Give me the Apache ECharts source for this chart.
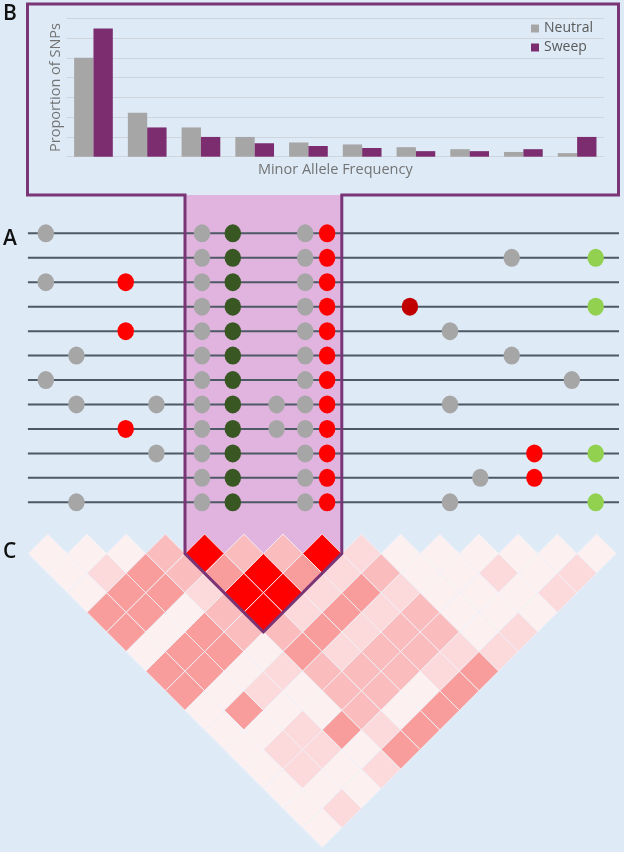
<!DOCTYPE html>
<html>
<head>
<meta charset="utf-8">
<script src="https://cdn.jsdelivr.net/npm/echarts@6/dist/echarts.min.js"></script>
<style>
html,body{margin:0;padding:0;background:#deebf7;}
#chart{width:624px;height:852px;}
</style>
</head>
<body>
<div id="chart"></div>
<script>
// ---------- Panel B: site frequency spectrum ----------
const mafBins = ['0-0.05','0.05-0.10','0.10-0.15','0.15-0.20','0.20-0.25','0.25-0.30','0.30-0.35','0.35-0.40','0.40-0.45','0.45-0.50'];
const neutralProp = [0.250, 0.111, 0.074, 0.050, 0.036, 0.031, 0.024, 0.019, 0.012, 0.009];
const sweepProp   = [0.324, 0.074, 0.050, 0.034, 0.027, 0.022, 0.014, 0.014, 0.019, 0.050];
const seriesNames = ['Neutral', 'Sweep'];

// ---------- Panel A: haplotypes ----------
// SNP positions along the region (kb)
const snpPos = [17.9, 48.5, 97.8, 128.5, 174.1, 204.9, 248.7, 277.3, 299.2, 382.0, 422.1, 452.4, 483.8, 506.5, 543.9, 567.8];
const snpKind = ['neutral','neutral','derived','neutral','neutral','core','neutral','neutral','target','deleterious','neutral','neutral','neutral','derived','neutral','marker'];
const regionStart = 0, regionEnd = 591.1;
// SNP indices carried by each of the 12 haplotypes
const haplotypes = [
  [0,4,5,7,8],
  [4,5,7,8,12,15],
  [0,2,4,5,7,8],
  [4,5,7,8,9,15],
  [2,4,5,7,8,10],
  [1,4,5,7,8,12],
  [0,4,5,7,8,14],
  [1,3,4,5,6,7,8,10],
  [2,4,5,6,7,8],
  [3,4,5,7,8,13,15],
  [4,5,7,8,11,13],
  [1,4,5,7,8,10,15]
];

// ---------- Panel C: pairwise LD (r^2), listed by SNP distance d = j - i ----------
const ldByDistance = [
  [0.02,0.02,0.02,0.30,1.00,0.30,0.30,1.00,0.15,0.02,0.02,0.02,0.02,0.02,0.02],
  [0.02,0.15,0.50,0.30,0.50,1.00,0.50,0.15,0.30,0.02,0.02,0.15,0.02,0.15],
  [0.02,0.50,0.50,0.15,1.00,1.00,0.15,0.50,0.15,0.02,0.02,0.02,0.15],
  [0.50,0.50,0.02,0.30,1.00,0.15,0.50,0.15,0.30,0.02,0.02,0.02],
  [0.50,0.02,0.50,0.30,0.30,0.50,0.15,0.30,0.30,0.02,0.15],
  [0.02,0.50,0.50,0.02,0.50,0.15,0.30,0.30,0.15,0.15],
  [0.50,0.50,0.02,0.15,0.30,0.30,0.30,0.15,0.50],
  [0.50,0.02,0.15,0.02,0.30,0.30,0.02,0.50],
  [0.02,0.50,0.02,0.02,0.30,0.02,0.50],
  [0.02,0.02,0.15,0.50,0.15,0.50],
  [0.02,0.15,0.15,0.02,0.50],
  [0.02,0.15,0.02,0.15],
  [0.02,0.02,0.02],
  [0.02,0.15],
  [0.02]
];

// ---------- styles ----------
const kindColor = {neutral:'#a6a6a6', core:'#385723', target:'#ff0000', derived:'#ff0000', deleterious:'#c00000', marker:'#92d050'};
function ldColor(r2){
  if (r2 >= 0.9) return '#ff0000';
  if (r2 >= 0.45) return '#f89c9c';
  if (r2 >= 0.25) return '#fbbcbd';
  if (r2 >= 0.1) return '#fcd9da';
  return '#fdf0f1';
}
const FONT = "'Open Sans', 'Noto Sans', sans-serif";
const PURPLE_FRAME = '#7a3577';

// build data
const snpData = [];
haplotypes.forEach((h, r) => {
  h.forEach(k => snpData.push({value:[snpPos[k], r + 1], itemStyle:{color: kindColor[snpKind[k]], opacity:1}}));
});
const rowData = haplotypes.map((h, r) => r + 1);
const ldData = [];
ldByDistance.forEach((row, di) => {
  const d = di + 1;
  row.forEach((r2, i) => ldData.push([i, i + d, r2]));
});

const chart = echarts.init(document.getElementById('chart'), null, {renderer:'canvas'});

const option = {
  backgroundColor: '#deebf7',
  animation: false,
  textStyle: {fontFamily: FONT},
  legend: {
    data: seriesNames,
    orient: 'vertical',
    left: 531, top: 20.5, padding: 0,
    icon: 'rect', itemWidth: 8, itemHeight: 8, itemGap: 3,
    textStyle: {fontSize: 14, color: '#595959', lineHeight: 16, fontFamily: FONT}
  },
  grid: [
    {left: 66.6, right: 20, top: 18.3, height: 138.4},
    {left: 27.9, right: 5, top: 221.1, height: 293.4},
    {left: 28.2, right: 7.8, top: 534, height: 313.6}
  ],
  xAxis: [
    {gridIndex:0, type:'category', data: mafBins,
     axisLine:{lineStyle:{color:'#cfd5dc', width:1}}, axisTick:{show:false}, axisLabel:{show:false},
     name:'Minor Allele Frequency', nameLocation:'middle', nameGap: 6,
     nameTextStyle:{fontSize:14.5, color:'#737373', fontFamily: FONT}},
    {gridIndex:1, type:'value', min: regionStart, max: regionEnd, show:false},
    {gridIndex:2, type:'value', min: 0, max: 15, show:false}
  ],
  yAxis: [
    {gridIndex:0, type:'value', min:0, max:0.35, interval:0.05,
     axisLine:{show:false}, axisTick:{show:false}, axisLabel:{show:false},
     splitLine:{lineStyle:{color:'#cfd5dc', width:1}},
     name:'Proportion of SNPs', nameLocation:'middle', nameGap: 3,
     nameTextStyle:{fontSize:14.5, color:'#737373', fontFamily: FONT}},
    {gridIndex:1, type:'value', min:0.5, max:12.5, inverse:true, show:false},
    {gridIndex:2, type:'value', min:0, max:16, inverse:true, show:false}
  ],
  series: [
    {name:'Neutral', type:'bar', xAxisIndex:0, yAxisIndex:0, data: neutralProp,
     barWidth:'36%', barGap:'0%', itemStyle:{color:'#a6a6a6'}},
    {name:'Sweep', type:'bar', xAxisIndex:0, yAxisIndex:0, data: sweepProp,
     barWidth:'36%', barGap:'0%', itemStyle:{color:'#7b2d6f'}},
    {type:'custom', xAxisIndex:1, yAxisIndex:1, data: rowData, z:3, silent:true,
     renderItem: function(params, api){
       const row = api.value(0);
       const p1 = api.coord([regionStart, row]);
       const p2 = api.coord([regionEnd, row]);
       return {type:'line', shape:{x1:p1[0], y1:p1[1], x2:p2[0], y2:p2[1]},
               style:{stroke:'#4e5966', lineWidth:2}};
     }},
    {type:'scatter', xAxisIndex:1, yAxisIndex:1, data: snpData, z:4,
     symbol:'circle', symbolSize:[16.5, 18], silent:true, itemStyle:{opacity:1}},
    {type:'custom', xAxisIndex:2, yAxisIndex:2, data: ldData, z:3, clip:false, silent:true,
     renderItem: function(params, api){
       const i = api.value(0), j = api.value(1), r2 = api.value(2);
       const u = (i + j) / 2, d = j - i;
       const pts = [api.coord([u - 0.5, d]), api.coord([u, d - 1]), api.coord([u + 0.5, d]), api.coord([u, d + 1])];
       return {type:'polygon', shape:{points: pts},
               style:{fill: ldColor(r2), stroke:'rgba(238,242,248,0.9)', lineWidth:1}};
     }}
  ]
};
chart.setOption(option);

// decorations: frame of panel B, pink sweep column and V into the LD triangle
const vl = chart.convertToPixel({gridIndex:2}, [4, 1]);
const va = chart.convertToPixel({gridIndex:2}, [6, 5]);
const vr = chart.convertToPixel({gridIndex:2}, [8, 1]);
const frameBottom = 195, frameTop = 4, frameLeft = 27.5, frameRight = 618.5;
chart.setOption({
  graphic: [
    {type:'polygon', z:1, silent:true,
     shape:{points:[[vl[0],frameBottom],[vr[0],frameBottom],[vr[0],vr[1]],[va[0],va[1]],[vl[0],vl[1]]]},
     style:{fill:'#e0b4df'}},
    {type:'polygon', z:50, silent:true,
     shape:{points:[[va[0],va[1]],[vl[0],vl[1]],[vl[0],frameBottom],[frameLeft,frameBottom],[frameLeft,frameTop],
                    [frameRight,frameTop],[frameRight,frameBottom],[vr[0],frameBottom],[vr[0],vr[1]]]},
     style:{fill:null, stroke:PURPLE_FRAME, lineWidth:3, lineJoin:'miter'}},
    {type:'text', left:3, top:4, z:50, style:{text:'B', fontSize:21, fontWeight:600, fontFamily:FONT, fill:'#111'}},
    {type:'text', left:3, top:229, z:50, style:{text:'A', fontSize:21, fontWeight:600, fontFamily:FONT, fill:'#111'}},
    {type:'text', left:3, top:542, z:50, style:{text:'C', fontSize:21, fontWeight:600, fontFamily:FONT, fill:'#111'}}
  ]
});
</script>
</body>
</html>
